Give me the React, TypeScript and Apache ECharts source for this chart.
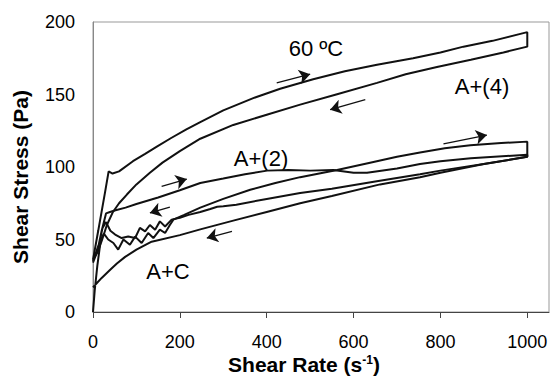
import React, { useEffect, useRef } from "react";
import * as echarts from "echarts";

const X_TICKS = [0, 200, 400, 600, 800, 1000];
const Y_TICKS = [0, 50, 100, 150, 200];

// A+(4) loop (top)
const A4_UP: number[][] = [
  [0, 36], [12, 56], [28, 83], [36, 97], [45, 95.5], [60, 97], [92, 104], [120, 109],
  [147, 114], [180, 120], [215, 126], [247, 131], [300, 139], [369, 147.5], [431, 154],
  [507, 160.5], [580, 166], [654, 170.5], [737, 175], [800, 179], [853, 183], [920, 187],
  [1000, 193],
];
const A4_DOWN: number[][] = [
  [1000, 183], [945, 179], [870, 174], [792, 169], [720, 164], [654, 158], [560, 150],
  [477, 143], [400, 136], [323, 129], [247, 119.5], [200, 111], [160, 103], [131, 96],
  [100, 88], [78, 81], [60, 75], [46, 69], [32, 60], [20, 49], [10, 41], [0, 36],
];

// A+(2) loop (middle)
const A2_UP: number[][] = [
  [0, 34], [10, 42], [20, 56], [30, 68], [39, 69], [50, 70], [75, 72], [100, 74.5],
  [150, 79], [200, 84], [247, 89], [300, 92], [350, 95], [401, 97.5], [450, 98],
  [500, 97.5], [553, 98], [600, 96], [631, 96], [700, 99], [753, 102], [800, 104],
  [870, 106], [1000, 108.5],
];
const A2_DOWN: number[][] = [
  [1000, 107], [900, 102], [800, 97.5], [753, 95], [650, 90], [550, 85], [477, 82],
  [400, 78], [330, 74], [300, 73], [286, 72.6], [270, 71], [247, 69], [220, 67],
  [200, 65], [181, 63.7], [166, 59], [154, 62.5], [143, 56.8], [131, 60], [120, 55.6],
  [108, 58], [97, 51], [81, 52], [66, 51], [51, 53.4], [40, 56], [30, 62], [22, 58],
  [15, 48], [8, 42], [0, 35],
];

// A+C loop (bottom)
const AC_UP: number[][] = [
  [0, 0], [4, 15], [10, 32], [18, 50], [25, 54], [35, 50], [47, 47.6], [58, 43],
  [70, 50], [85, 46.4], [97, 52], [112, 47.6], [127, 54.5], [139, 51], [154, 56.8],
  [166, 54.5], [177, 60], [185, 63.7], [210, 67], [247, 72], [300, 78], [362, 84.3],
  [420, 89], [477, 93], [562, 98], [638, 103], [700, 107], [753, 110], [810, 113],
  [869, 115], [940, 116.5], [1000, 117.5],
];
const AC_DOWN: number[][] = [
  [1000, 107], [900, 102], [800, 96], [753, 93], [661, 88], [550, 80], [477, 75],
  [400, 69], [323, 63], [247, 57], [200, 53], [135, 48.5], [100, 43], [74, 38],
  [55, 33.5], [39, 29], [20, 23.5], [9, 20], [0, 17],
];

// direction arrows: [x1, y1, x2, y2], head at (x2, y2)
const ARROWS: number[][] = [
  [423, 158, 500, 164],
  [627, 146.4, 546, 139.5],
  [158, 86.6, 216, 91.7],
  [177, 72.4, 131, 68.3],
  [320, 55.6, 262, 51],
  [807, 116, 907, 122],
];

const LABEL_TEXTS = ["60 ºC", "A+(4)", "A+(2)", "A+C"];
const X_TITLE = "Shear Rate (s";
const X_TITLE_SUP = "-1";
const Y_TITLE = "Shear Stress (Pa)";

const FONT = "'Liberation Sans', Arial, Helvetica, sans-serif";
const INK = "#111";

export default function App() {
  const ref = useRef<HTMLDivElement>(null);

  useEffect(() => {
    if (!ref.current) return;
    const chart = echarts.init(ref.current, null, { renderer: "svg" });

    const lineSeries = (name: string, data: number[][]) => ({
      name,
      type: "line",
      data,
      showSymbol: false,
      symbol: "none",
      smooth: false,
      lineStyle: { color: INK, width: 2 },
      z: 3,
    });

    const labelPos = [
      [316, 48],
      [482, 86],
      [261, 158],
      [168, 271],
    ];

    chart.setOption({
      animation: false,
      backgroundColor: "#fff",
      textStyle: { fontFamily: FONT },
      grid: {
        left: 93,
        right: 2,
        top: 22,
        bottom: 65,
        show: true,
        borderColor: "#999",
        borderWidth: 1,
        backgroundColor: "transparent",
      },
      xAxis: {
        type: "value",
        min: 0,
        max: 1050,
        interval: 200,
        splitLine: { show: false },
        axisLine: { show: true, lineStyle: { color: "#444", width: 1 } },
        axisTick: {
          show: true,
          length: 6,
          inside: false,
          lineStyle: { color: "#444" },
          customValues: X_TICKS,
        },
        axisLabel: {
          show: true,
          margin: 21,
          fontSize: 18,
          color: "#000",
          fontFamily: FONT,
          customValues: X_TICKS,
          formatter: (v: number) => String(v),
        },
      },
      yAxis: {
        type: "value",
        min: 0,
        max: 200,
        interval: 50,
        splitLine: { show: false },
        axisLine: { show: true, lineStyle: { color: "#888", width: 1 } },
        axisTick: { show: false },
        axisLabel: {
          show: true,
          margin: 18,
          fontSize: 18,
          color: "#000",
          fontFamily: FONT,
          formatter: (v: number) => (Y_TICKS.includes(v) ? String(v) : ""),
        },
      },
      series: [
        lineSeries("A+(4)", [...A4_UP, ...A4_DOWN]),
        lineSeries("A+(2)", [...A2_UP, ...A2_DOWN]),
        lineSeries("A+C", [...AC_UP, ...AC_DOWN]),
        {
          name: "arrows",
          type: "lines",
          coordinateSystem: "cartesian2d",
          symbol: ["none", "arrow"],
          symbolSize: 11,
          lineStyle: { color: INK, width: 1.3, opacity: 1, curveness: 0 },
          data: ARROWS.map((a) => ({ coords: [[a[0], a[1]], [a[2], a[3]]] })),
          z: 4,
        },
      ],
      graphic: [
        ...LABEL_TEXTS.map((t, i) => ({
          type: "text",
          x: labelPos[i][0],
          y: labelPos[i][1],
          style: {
            text: t,
            fontSize: 22,
            fontFamily: FONT,
            fill: "#000",
            align: "center",
            verticalAlign: "middle",
          },
        })),
        {
          type: "text",
          x: 304,
          y: 364,
          style: {
            text: `${X_TITLE}{sup|${X_TITLE_SUP}})`,
            fontSize: 21,
            fontWeight: "bold",
            fontFamily: FONT,
            fill: "#000",
            align: "center",
            verticalAlign: "middle",
            rich: {
              sup: {
                fontSize: 12,
                fontWeight: "bold",
                fontFamily: FONT,
                fill: "#000",
                verticalAlign: "top",
              },
            },
          },
        },
        {
          type: "text",
          x: 20,
          y: 177,
          rotation: Math.PI / 2,
          style: {
            text: Y_TITLE,
            fontSize: 21,
            fontWeight: "bold",
            fontFamily: FONT,
            fill: "#000",
            align: "center",
            verticalAlign: "middle",
          },
        },
      ],
    });

    return () => chart.dispose();
  }, []);

  return (
    <div
      ref={ref}
      style={{ position: "fixed", left: 0, top: 0, width: 551, height: 377, background: "#fff" }}
    />
  );
}
